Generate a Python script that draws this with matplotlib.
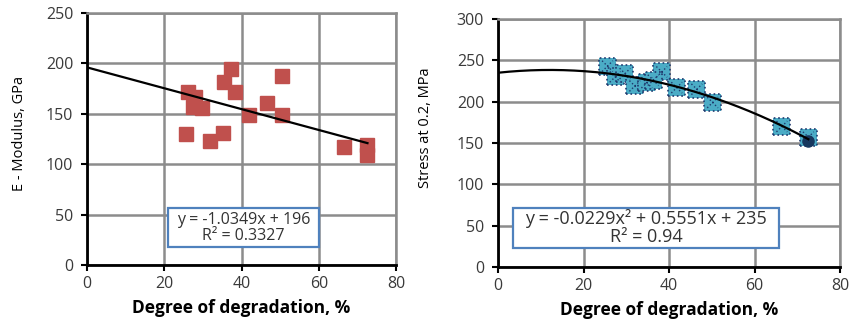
import numpy as np
import matplotlib
matplotlib.use("Agg")
import matplotlib.pyplot as plt
from matplotlib.patches import Rectangle

plt.rcParams['font.family'] = ['Open Sans', 'DejaVu Sans']

# left panel: E-modulus vs degree of degradation
deg_e = [37.2, 35.5, 50.6, 38.3, 26.2, 28.0, 27.5, 29.7, 46.7, 42.0, 50.4,
         25.6, 35.1, 31.8, 66.5, 72.6, 72.6]
e_mod = [194, 182, 187, 172, 172, 167, 157, 156, 161, 149, 149,
         130, 131, 123, 117, 119, 109]
lin_coef = [-1.0349, 196]
lin_label = "y = -1.0349x + 196\nR² = 0.3327"

# right panel: stress at 0.2 vs degree of degradation
deg_s = [25.6, 27.4, 29.7, 32.0, 34.8, 38.3, 36.3, 41.8, 46.5, 50.2, 66.4, 72.6]
stress = [243, 230, 234, 219, 223, 236, 226, 217, 215, 199, 170, 157]
deg_last = [72.6]
stress_last = [153]
quad_coef = [-0.0229, 0.5551, 235]
quad_label = "y = -0.0229x² + 0.5551x + 235\nR² = 0.94"

fit_x_max = 72.6

fig = plt.figure(figsize=(8.49, 3.2), dpi=100)
ax1 = fig.add_axes([0.1025, 0.172, 0.364, 0.7875])
ax2 = fig.add_axes([0.5866, 0.1656, 0.4028, 0.775])


def style(ax, ymax, ylabel, ylabel_size):
    ax.set_xlim(0, 80)
    ax.set_ylim(0, ymax)
    ax.set_xticks([0, 20, 40, 60, 80])
    ax.set_yticks(np.arange(0, ymax + 1, 50))
    ax.grid(True, color='#8c8c8c', linewidth=1.8)
    ax.set_axisbelow(True)
    for s in ['top', 'right']:
        ax.spines[s].set_color('#8c8c8c')
        ax.spines[s].set_linewidth(1.8)
    for s in ['left', 'bottom']:
        ax.spines[s].set_color('black')
        ax.spines[s].set_linewidth(2)
    ax.tick_params(direction='out', length=4, width=1.5, color='black',
                   labelsize=11.5, labelcolor='#3a3a3a')
    ax.tick_params(axis='y', pad=6)
    ax.tick_params(axis='x', pad=4)
    ax.set_xlabel("Degree of degradation, %", fontsize=12.5, fontweight='bold',
                  labelpad=5)
    ax.set_ylabel(ylabel, fontsize=ylabel_size)


def eq_box(ax, x0, y0, w, h, label, size):
    ax.add_patch(Rectangle((x0, y0), w, h, transform=ax.transAxes,
                           fc='white', ec='#4f81bd', lw=1.6, zorder=5))
    ax.text(x0 + w / 2, y0 + h / 2, label, transform=ax.transAxes,
            ha='center', va='center', fontsize=size, color='#333333',
            linespacing=1.0, zorder=6)


style(ax1, 250, "E - Modulus, GPa", 10.5)
style(ax2, 300, "Stress at 0.2, MPa", 10.5)
ax1.yaxis.set_label_coords(-0.195, 0.52)
ax2.yaxis.set_label_coords(-0.19, 0.56)

xs = np.linspace(0, fit_x_max, 200)

ax1.plot(deg_e, e_mod, 's', color='#c0504d', markersize=10.5, zorder=3)
ax1.plot(xs, np.polyval(lin_coef, xs), color='black', linewidth=1.6, zorder=4)
eq_box(ax1, 0.262, 0.071, 0.489, 0.155, lin_label, 11.5)

ax2.scatter(deg_s, stress, marker='s', s=150, c='#4bacc6',
            edgecolors='#1f3a6e', linewidths=1.2, linestyle=':', zorder=3)
ax2.scatter(deg_s, stress, marker='x', s=60, c='#1f3a6e',
            linewidths=1.0, linestyle=':', zorder=3)
ax2.plot(deg_last, stress_last, 'o', color='#17375e', markersize=8, zorder=3)
ax2.plot(xs, np.polyval(quad_coef, xs), color='black', linewidth=1.6, zorder=4)
eq_box(ax2, 0.044, 0.077, 0.778, 0.161, quad_label, 13)

fig.savefig("out.png", dpi=100)
